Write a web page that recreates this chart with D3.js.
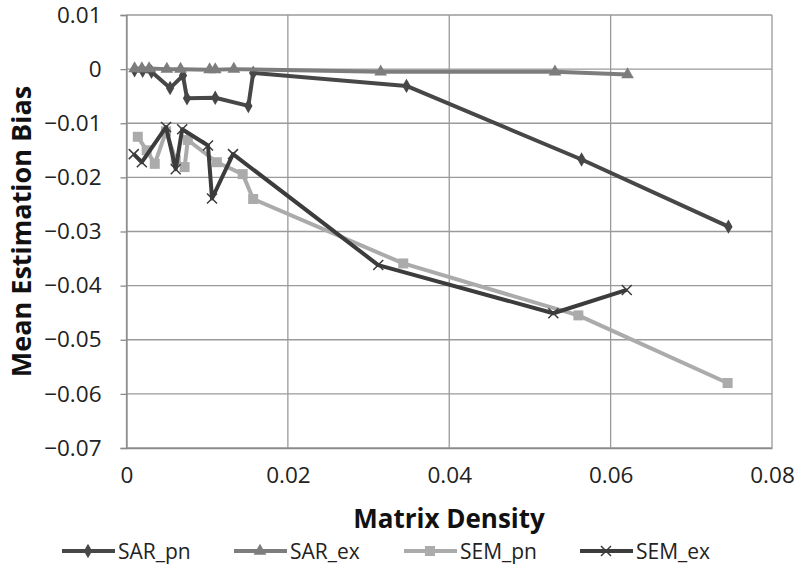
<!DOCTYPE html>
<html>
<head>
<meta charset="utf-8">
<script src="https://cdn.jsdelivr.net/npm/d3@7"></script>
<style>
  body { margin: 0; background: #fff; }
  text { font-family: "Open Sans", sans-serif; }
</style>
</head>
<body>
<div id="chart"></div>
<script>
// values
const sarPnX = [0.001, 0.002, 0.0031, 0.0054, 0.0070, 0.0075, 0.0110, 0.0151, 0.0157, 0.0347, 0.0564, 0.0746];
const sarPnY = [-0.0002, -0.0003, -0.0005, -0.0035, -0.0012, -0.0054, -0.0053, -0.0068, -0.0007, -0.0031, -0.0167, -0.0291];

const sarExX = [0.001, 0.0019, 0.0028, 0.005, 0.0067, 0.0103, 0.011, 0.0133, 0.0315, 0.0531, 0.0621];
const sarExY = [0.0001, 0.0001, 0.0001, 0, 0, -0.0001, -0.0001, 0, -0.0005, -0.0005, -0.001];

const semPnX = [0.0014, 0.0025, 0.0035, 0.0049, 0.0061, 0.0072, 0.0076, 0.0112, 0.0144, 0.0157, 0.0343, 0.0560, 0.0745];
const semPnY = [-0.0125, -0.0150, -0.0175, -0.0115, -0.0168, -0.0181, -0.0131, -0.0172, -0.0194, -0.0240, -0.0359, -0.0455, -0.0580];

const semExX = [0.0009, 0.0019, 0.0049, 0.0061, 0.0069, 0.0101, 0.0106, 0.0132, 0.0312, 0.0529, 0.0620];
const semExY = [-0.0157, -0.0172, -0.0107, -0.0185, -0.0111, -0.0141, -0.0239, -0.0157, -0.0362, -0.0451, -0.0408];

const xTicks = [0, 0.02, 0.04, 0.06, 0.08];
const yTicks = [0.01, 0, -0.01, -0.02, -0.03, -0.04, -0.05, -0.06, -0.07];

const seriesNames = ["SAR_pn", "SAR_ex", "SEM_pn", "SEM_ex"];

const width = 797, height = 568;
const margin = {top: 15, right: 25, bottom: 120, left: 126.5};

const svg = d3.select("#chart").append("svg")
    .attr("width", width)
    .attr("height", height);

const x = d3.scaleLinear().domain([0, 0.08]).range([margin.left, 772]);
const y = d3.scaleLinear().domain([-0.07, 0.01]).range([448, margin.top]);

// gridlines
svg.append("g")
    .selectAll("line.h")
    .data(yTicks)
    .enter()
    .append("line")
    .attr("x1", x(0)).attr("x2", x(0.08))
    .attr("y1", d => y(d)).attr("y2", d => y(d))
    .style("stroke", "#9a9a9a")
    .style("stroke-width", 1.3);

svg.append("g")
    .selectAll("line.v")
    .data(xTicks)
    .enter()
    .append("line")
    .attr("x1", d => x(d)).attr("x2", d => x(d))
    .attr("y1", y(0.01)).attr("y2", y(-0.07))
    .style("stroke", "#9a9a9a")
    .style("stroke-width", 1.3);

// axes
const yAxis = d3.axisLeft(y)
    .tickValues(yTicks)
    .tickSize(6)
    .tickFormat(d => d === 0 ? "0" : d3.format(".2f")(d).replace("-", "\u2212\u2009"));

const yG = svg.append("g")
    .attr("transform", `translate(${x(0)},0)`)
    .call(yAxis);
yG.select(".domain").style("stroke", "#8a8a8a").style("stroke-width", 1.3);
yG.selectAll(".tick line").style("stroke", "#8a8a8a").style("stroke-width", 1.3);
yG.selectAll(".tick text")
    .attr("x", -25)
    .style("font-size", "22.5px")
    .style("fill", "#222");

const xAxis = d3.axisBottom(x)
    .tickValues(xTicks)
    .tickSize(0)
    .tickPadding(19)
    .tickFormat(d => d === 0 ? "0" : d3.format(".2f")(d));

const xG = svg.append("g")
    .attr("transform", `translate(0,${y(-0.07)})`)
    .call(xAxis);
xG.select(".domain").style("stroke", "#8a8a8a").style("stroke-width", 1.3);
xG.selectAll(".tick text")
    .style("font-size", "22.5px")
    .style("fill", "#222");

// axis titles
svg.append("text")
    .attr("transform", `translate(31,${(y(0.01) + y(-0.07)) / 2}) rotate(-90)`)
    .attr("text-anchor", "middle")
    .style("font-size", "27px")
    .style("font-weight", "bold")
    .style("fill", "#111")
    .text("Mean Estimation Bias");

svg.append("text")
    .attr("x", 449)
    .attr("y", 528)
    .attr("text-anchor", "middle")
    .style("font-size", "26px")
    .style("font-weight", "bold")
    .style("fill", "#111")
    .text("Matrix Density");

// series
const series = [
    {name: seriesNames[0], xs: sarPnX, ys: sarPnY, color: "#474747", marker: "diamond"},
    {name: seriesNames[1], xs: sarExX, ys: sarExY, color: "#7d7d7d", marker: "triangle"},
    {name: seriesNames[2], xs: semPnX, ys: semPnY, color: "#ababab", marker: "square"},
    {name: seriesNames[3], xs: semExX, ys: semExY, color: "#3c3c3c", marker: "cross"}
];

const line = d3.line()
    .x(d => x(d[0]))
    .y(d => y(d[1]));

function drawMarker(g, type, color, cx, cy) {
    if (type === "diamond") {
        g.append("path")
            .attr("d", d3.symbol(d3.symbolDiamond, 60)())
            .attr("transform", `translate(${cx},${cy})`)
            .style("fill", color);
    } else if (type === "triangle") {
        g.append("path")
            .attr("d", d3.symbol(d3.symbolTriangle, 70)())
            .attr("transform", `translate(${cx},${cy})`)
            .style("fill", color);
    } else if (type === "square") {
        g.append("rect")
            .attr("x", cx - 5).attr("y", cy - 5)
            .attr("width", 10).attr("height", 10)
            .style("fill", color);
    } else {
        g.append("path")
            .attr("d", `M${cx - 5},${cy - 5}L${cx + 5},${cy + 5}M${cx - 5},${cy + 5}L${cx + 5},${cy - 5}`)
            .style("stroke", color)
            .style("stroke-width", 1.5);
    }
}

series.forEach(s => {
    const pts = s.xs.map((v, i) => [v, s.ys[i]]);
    const g = svg.append("g");
    g.append("path")
        .datum(pts)
        .attr("d", line)
        .style("fill", "none")
        .style("stroke", s.color)
        .style("stroke-width", 4)
        .style("stroke-linejoin", "round");
    pts.forEach(p => drawMarker(g, s.marker, s.color, x(p[0]), y(p[1])));
});

// legend
const legendX = [62, 234, 404, 580];
const legendY = 551;
series.forEach((s, i) => {
    const g = svg.append("g");
    g.append("line")
        .attr("x1", legendX[i]).attr("x2", legendX[i] + 53)
        .attr("y1", legendY).attr("y2", legendY)
        .style("stroke", s.color)
        .style("stroke-width", 4);
    drawMarker(g, s.marker, s.color, legendX[i] + 26, legendY);
    g.append("text")
        .attr("x", legendX[i] + 56)
        .attr("y", legendY + 8)
        .style("font-size", "21px")
        .style("fill", "#222")
        .text(s.name);
});
</script>
</body>
</html>
